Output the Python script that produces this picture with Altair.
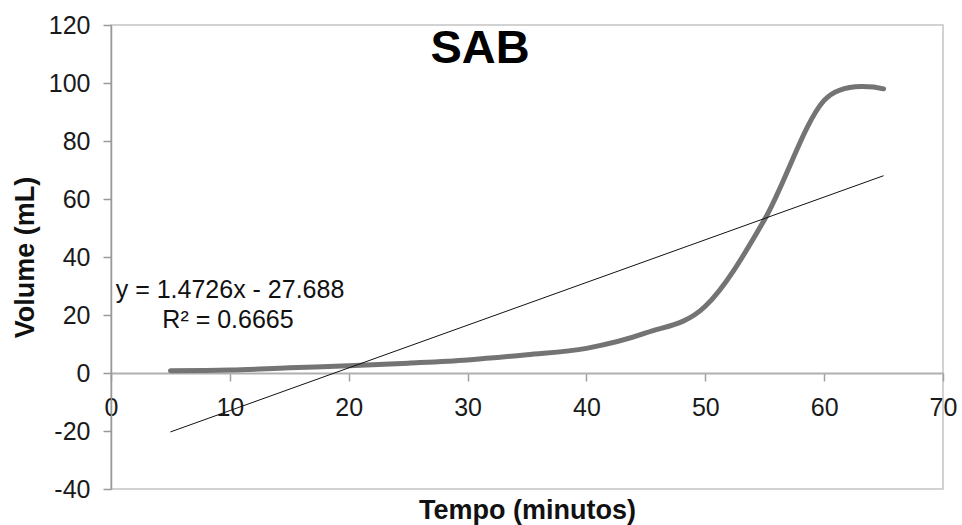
import altair as alt
import pandas as pd

# Measured volume over time
tempo = [5, 10, 15, 20, 25, 30, 35, 40, 45, 50, 55, 60, 65]
volume = [0.8, 1.0, 1.8, 2.5, 3.4, 4.5, 6.3, 8.5, 13.8, 23.0, 53.0, 94.0, 98.0]

# Linear trend line coefficients (as reported on the chart)
slope = 1.4726
intercept = -27.688
r2 = 0.6665
trend_x = [5, 65]

x_ticks = [0, 10, 20, 30, 40, 50, 60, 70]
y_ticks = [-40, -20, 0, 20, 40, 60, 80, 100, 120]

FONT = "Liberation Sans"
PLAIN_LABEL = "'' + datum.value"  # hyphen-minus for negative numbers

df = pd.DataFrame({"tempo": tempo, "volume": volume})
trend_df = pd.DataFrame({"tempo": trend_x})

x_scale = alt.Scale(domain=[0, 70], nice=False, zero=False)
y_scale = alt.Scale(domain=[-40, 120], nice=False, zero=False)

x_axis = alt.Axis(
    values=x_ticks, grid=False, offset=-116,
    tickSize=8, tickColor="#a0a0a0", tickWidth=1.5,
    domainColor="#b0b0b0", domainWidth=2,
    labelFont=FONT, labelFontSize=25, labelColor="#1a1a1a",
    labelPadding=14, labelFlush=False, labelOverlap=False,
    labelExpr=PLAIN_LABEL,
    title="Tempo (minutos)", titleFont=FONT, titleFontSize=27,
    titleFontWeight="bold", titleColor="#111111",
    titleX=416, titleY=137, titleAlign="center", titleBaseline="middle",
)
y_axis = alt.Axis(
    values=y_ticks, grid=False,
    tickSize=8, tickColor="#999999", tickWidth=1.5,
    domainColor="#999999", domainWidth=1.5,
    labelFont=FONT, labelFontSize=25, labelColor="#1a1a1a",
    labelPadding=13, labelOverlap=False,
    labelExpr=PLAIN_LABEL,
    title="Volume (mL)", titleFont=FONT, titleFontSize=27,
    titleFontWeight="bold", titleColor="#111111",
    titleAngle=270, titleX=-86, titleY=232,
    titleAlign="center", titleBaseline="middle",
)

curve = alt.Chart(df).mark_line(
    color="#747474", strokeWidth=5, interpolate="cardinal", strokeCap="round"
).encode(
    x=alt.X("tempo:Q", scale=x_scale, axis=x_axis),
    y=alt.Y("volume:Q", scale=y_scale, axis=y_axis),
)

trend = alt.Chart(trend_df).transform_calculate(
    fit=f"{slope} * datum.tempo + ({intercept})"
).mark_line(color="#111111", strokeWidth=1).encode(
    x=alt.X("tempo:Q", scale=x_scale),
    y=alt.Y("fit:Q", scale=y_scale),
)

label_data = alt.Data(values=[{}])

title_text = alt.Chart(label_data).mark_text(
    text="SAB", font=FONT, fontSize=47, fontWeight="bold",
    color="#000000", align="center", baseline="alphabetic",
).encode(x=alt.value(369), y=alt.value(38))

eq_text = alt.Chart(label_data).mark_text(
    text=f"y = {slope}x - {abs(intercept)}", font=FONT, fontSize=25,
    color="#111111", align="center", baseline="alphabetic",
).encode(x=alt.value(119), y=alt.value(273))

r2_text = alt.Chart(label_data).mark_text(
    text=f"R² = {r2}", font=FONT, fontSize=25,
    color="#111111", align="center", baseline="alphabetic",
).encode(x=alt.value(117), y=alt.value(303))

chart = alt.layer(curve, trend, title_text, eq_text, r2_text).properties(
    width=832, height=464,
    autosize=alt.AutoSizeParams(type="none"),
    padding={"left": 111, "top": 25, "right": 19, "bottom": 36},
    background="white",
).configure_view(stroke="#c4c4c4", strokeWidth=1.5)

chart.save("out.html", embed_options={"renderer": "svg", "actions": False})
